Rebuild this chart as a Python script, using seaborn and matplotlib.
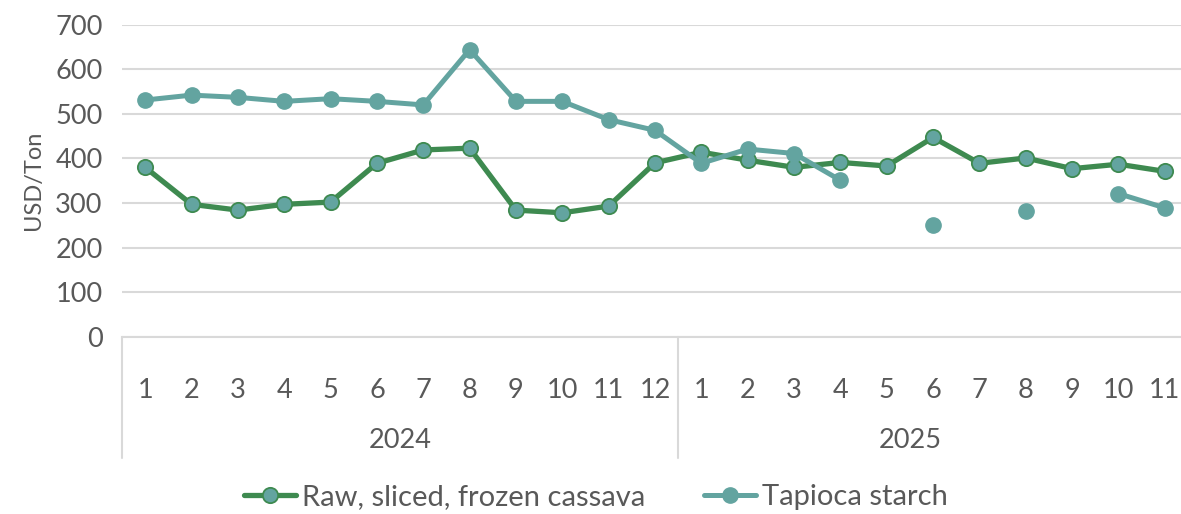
import numpy as np
import pandas as pd
import matplotlib
matplotlib.use("Agg")
import matplotlib.pyplot as plt
from matplotlib.lines import Line2D
from matplotlib.transforms import blended_transform_factory
import seaborn as sns

# Monthly prices, USD per ton
years = [2024] * 12 + [2025] * 11
months = list(range(1, 13)) + list(range(1, 12))
raw_cassava = [380, 297, 284, 297, 302, 389, 419, 423, 284, 278, 293, 390,
               414, 396, 380, 391, 383, 447, 389, 401, 377, 387, 371]
tapioca_starch = [531, 542, 537, 528, 534, 528, 520, 644, 528, 528, 487, 463,
                  389, 421, 411, 351, np.nan, 250, np.nan, 283, np.nan, 321, 289]
series_names = ["Raw, sliced, frozen cassava", "Tapioca starch"]
year_labels = ["2024", "2025"]

GREEN = "#3e8a50"
TEAL = "#63a4a0"
TEXT = "#595959"
GRID = "#d9d9d9"

sns.set_theme(style="white")
plt.rcParams["font.family"] = ["Lato", "DejaVu Sans"]


def to_long(values, name):
    df = pd.DataFrame({"pos": np.arange(len(values)), "value": values})
    # split the series wherever a month is missing so gaps stay open
    df["segment"] = df["value"].isna().cumsum()
    df["series"] = name
    return df.dropna()


raw_df = to_long(raw_cassava, series_names[0])
tap_df = to_long(tapioca_starch, series_names[1])

fig = plt.figure(figsize=(11.81, 5.14), dpi=100)
ax = fig.add_axes([122 / 1181, 1 - 336.7 / 514, (1188 - 122) / 1181, (336.7 - 24.7) / 514])

sns.lineplot(data=raw_df, x="pos", y="value", units="segment", estimator=None,
             color=GREEN, linewidth=3.8, marker="o", markersize=11,
             markerfacecolor=TEAL, markeredgecolor=GREEN, markeredgewidth=1.3,
             ax=ax, zorder=3)
sns.lineplot(data=tap_df, x="pos", y="value", units="segment", estimator=None,
             color=TEAL, linewidth=3.6, marker="o", markersize=11,
             markerfacecolor=TEAL, markeredgecolor=TEAL, markeredgewidth=1.0,
             ax=ax, zorder=4)

ax.set_xlim(-0.5, 22.5)
ax.set_ylim(0, 700)
ax.set_yticks(range(0, 701, 100))
ax.yaxis.grid(True, color=GRID, linewidth=1.5)
ax.set_axisbelow(True)
for side in ["left", "right", "top"]:
    ax.spines[side].set_visible(False)
ax.spines["bottom"].set_color(GRID)
ax.spines["bottom"].set_linewidth(1.5)

ax.set_xticks(range(len(months)))
ax.set_xticklabels([str(m) for m in months])
ax.tick_params(axis="x", length=0, pad=30, labelsize=19.5, labelcolor=TEXT)
ax.tick_params(axis="y", length=0, pad=14, labelsize=19.5, labelcolor=TEXT)
ax.set_xlabel("")
ax.set_ylabel("USD/Ton", fontsize=17, color=TEXT, labelpad=8)
if ax.get_legend() is not None:
    ax.get_legend().remove()

# two-level category axis: year labels with separators
trans = blended_transform_factory(ax.transData, ax.transAxes)
sep_bottom = -(458 - 336.7) / 312
for xb in [-0.5, 11.5, 22.5]:
    ax.add_line(Line2D([xb, xb], [0, sep_bottom], transform=trans,
                       color=GRID, linewidth=1.5, clip_on=False))
ax.text(5.5, -(440 - 336.7) / 312, year_labels[0], transform=trans,
        ha="center", va="center", fontsize=19.5, color=TEXT)
ax.text(16.5, -(440 - 336.7) / 312, year_labels[1], transform=trans,
        ha="center", va="center", fontsize=19.5, color=TEXT)

handles = [
    Line2D([], [], color=GREEN, linewidth=3.8, marker="o", markersize=11,
           markerfacecolor=TEAL, markeredgecolor=GREEN, markeredgewidth=1.3),
    Line2D([], [], color=TEAL, linewidth=3.6, marker="o", markersize=11,
           markerfacecolor=TEAL, markeredgecolor=TEAL),
]
fig.legend(handles, series_names, loc="center", bbox_to_anchor=(596 / 1181, 1 - 497 / 514),
           ncol=2, frameon=False, fontsize=21, labelcolor=TEXT,
           handlelength=1.8, handletextpad=0.2, columnspacing=2.0)

fig.savefig("out.png", dpi=100)
